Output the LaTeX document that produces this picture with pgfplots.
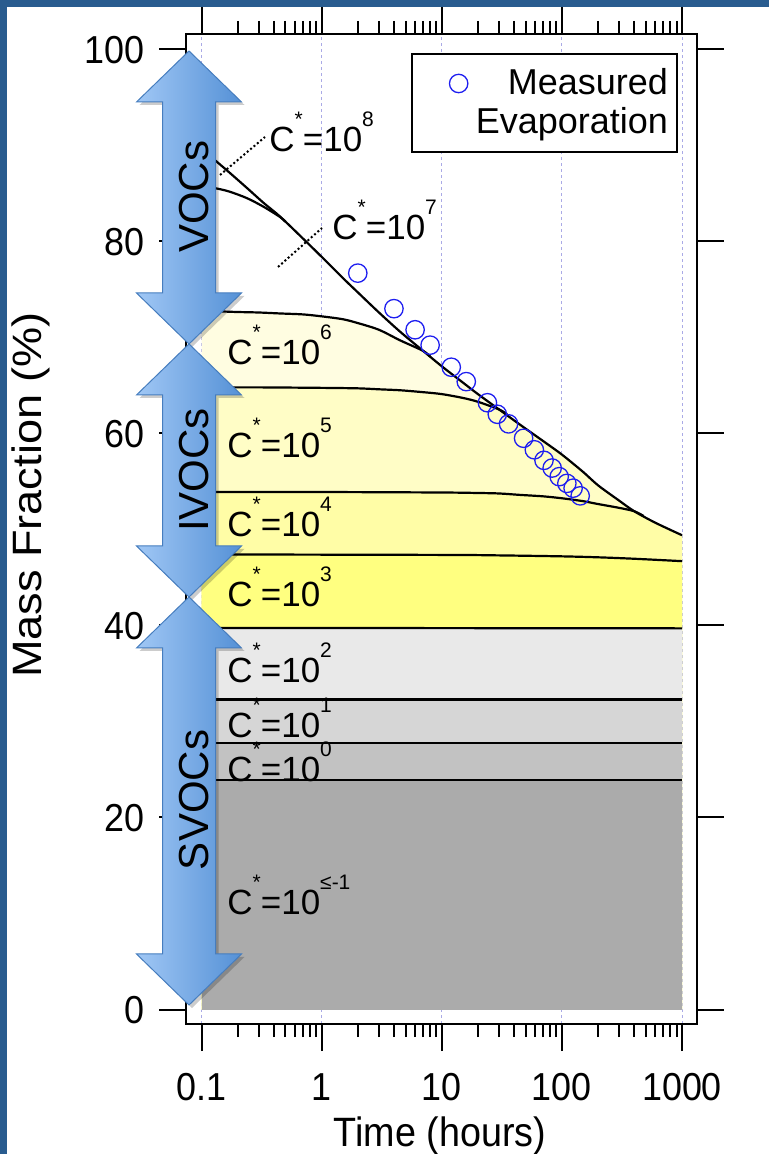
\documentclass[border=0pt]{standalone}
\usepackage{pgfplots}
\pgfplotsset{compat=1.18}
\usepackage{fontspec}
\setmainfont{Liberation Sans}
\newfontfamily\tallfont{Liberation Sans}[FakeStretch=0.92]
\newfontfamily\widefont{Liberation Sans}[FakeStretch=1.1]
\definecolor{frameblue}{RGB}{41,92,143}
\definecolor{gridc}{RGB}{170,170,230}
\definecolor{csix}{RGB}{255,253,225}
\definecolor{cfive}{RGB}{255,253,198}
\definecolor{cfour}{RGB}{255,253,166}
\definecolor{cthree}{RGB}{255,255,128}
\definecolor{ctwo}{RGB}{233,233,233}
\definecolor{cone}{RGB}{214,214,214}
\definecolor{czero}{RGB}{194,194,194}
\definecolor{cm}{RGB}{171,171,171}
\definecolor{markblue}{RGB}{30,30,240}
\definecolor{arrl}{RGB}{160,199,245}
\definecolor{arrr}{RGB}{85,145,214}
\definecolor{arrb}{RGB}{70,125,190}
\newcommand\sps[1]{\raisebox{12.5pt}{\fontsize{10.5}{10.5}\selectfont #1}}
\newcommand\Cs[1]{C\sps{*}=10\sps{#1}}
\newcommand\varrow[2]{%
  \fill[black,opacity=0.2,shift={(3,3)}] (189,#1) -- (241.5,{#1+51}) -- (215.5,{#1+51}) -- (215.5,{#2-51}) -- (241.5,{#2-51}) -- (189,#2) -- (136.5,{#2-51}) -- (162.5,{#2-51}) -- (162.5,{#1+51}) -- (136.5,{#1+51}) -- cycle;
  \draw[line width=0.5pt,draw=arrb,left color=arrl,right color=arrr] (189,#1) -- (241.5,{#1+51}) -- (215.5,{#1+51}) -- (215.5,{#2-51}) -- (241.5,{#2-51}) -- (189,#2) -- (136.5,{#2-51}) -- (162.5,{#2-51}) -- (162.5,{#1+51}) -- (136.5,{#1+51}) -- cycle;}
\begin{document}
\begin{tikzpicture}
\useasboundingbox (0,0) rectangle (384.5pt,577pt);
\begin{axis}[
  at={(93pt,65pt)}, anchor=south west, scale only axis,
  width=255.5pt, height=495pt,
  xmode=log, xmin=0.0743, xmax=1333, ymin=-1.51, ymax=101.61,
  axis line style={line width=1pt},
  tick align=outside, tick style={black,line width=1pt},
  major tick length=13.5pt, minor tick length=6.5pt,
  xtick={0.1,1,10,100,1000}, xticklabels={0.1,1,10,100,1000},
  minor xtick={0.2,0.3,0.4,0.5,0.6,0.7,0.8,0.9,2,3,4,5,6,7,8,9,20,30,40,50,60,70,80,90,200,300,400,500,600,700,800,900},
  ytick={0,20,40,60,80,100}, yticklabels={0,20,40,60,80,100}, minor ytick={},
  xtick pos=both, ytick pos=both, xticklabel pos=lower, yticklabel pos=left,
  xmajorgrids, major x grid style={dash pattern=on 1.5pt off 1.5pt, color=gridc, line width=0.5pt},
  /pgf/number format/assume math mode=true,
  tick label style={font=\tallfont\fontsize{19.5}{19.5}\selectfont},
  xticklabel style={anchor=base, inner sep=0pt, yshift=-24.5pt},
  yticklabel style={anchor=base east, inner sep=0pt, xshift=-7pt, yshift=-7pt},
  xlabel={Time (hours)}, ylabel={Mass Fraction (\%)},
  xlabel style={at={(axis description cs:0.497,-0.1242)}, anchor=base, inner sep=0pt, font=\tallfont\fontsize{20.5}{20.5}\selectfont},
  ylabel style={at={(axis description cs:-0.2818,0.5343)}, anchor=base, inner sep=0pt, font=\widefont\fontsize{20.5}{20.5}\selectfont},
  legend style={at={(0.9628,0.9808)}, anchor=north east, draw=black, line width=1pt, fill=white,
    inner xsep=4.5pt, inner ysep=5.75pt, row sep=1.5pt, column sep=4pt,
    font=\fontsize{18}{19.5}\selectfont,
    nodes={inner sep=0pt, text height=14.5pt, text depth=3.5pt}},
  legend cell align=right,
  legend image code/.code={\draw[#1,mark repeat=2,mark phase=2] plot coordinates {(0pt,0pt) (19pt,0pt) (26pt,0pt)};},
]
% fills (top layer first), each from its upper boundary down to zero
\addplot[forget plot, draw=none, fill=csix, smooth, tension=0.5] coordinates {(0.1,72.7) (0.15,72.7) (0.2,72.65) (0.3,72.6) (0.45,72.5) (0.7,72.4) (1,72.2) (1.5,71.9) (2,71.5) (3,70.8) (4.5,69.7) (7,68.6) (10,67.0) (15,65.3) (20,64.1) (30,62.5) (45,60.9) (70,59.2) (100,57.8) (150,56.0) (200,54.6) (300,53.0) (400,51.9) (600,50.7) (1000,49.4)} -- (axis cs:1000,0) -- (axis cs:0.1,0) -- cycle;
\addplot[forget plot, draw=none, fill=cfive, smooth, tension=0.5] coordinates {(0.1,64.8) (0.3,64.8) (1,64.75) (2,64.7) (3,64.6) (4.5,64.5) (7,64.3) (10,64.1) (15,63.7) (20,63.3) (30,62.5) (45,60.9) (70,59.2) (100,57.8) (150,56.0) (200,54.6) (300,53.0) (400,51.9) (600,50.7) (1000,49.4)} -- (axis cs:1000,0) -- (axis cs:0.1,0) -- cycle;
\addplot[forget plot, draw=none, fill=cfour, smooth, tension=0.5] coordinates {(0.1,53.9) (1,53.9) (10,53.85) (20,53.8) (30,53.75) (45,53.6) (70,53.45) (100,53.25) (150,52.95) (200,52.65) (300,52.25) (400,51.9) (600,50.7) (1000,49.4)} -- (axis cs:1000,0) -- (axis cs:0.1,0) -- cycle;
\addplot[forget plot, draw=none, fill=cthree, smooth, tension=0.5] coordinates {(0.1,47.4) (10,47.35) (30,47.3) (100,47.2) (200,47.1) (400,46.95) (1000,46.7)} -- (axis cs:1000,0) -- (axis cs:0.1,0) -- cycle;
\addplot[forget plot, draw=none, fill=ctwo] coordinates {(0.1,0) (0.1,39.75) (1000,39.7) (1000,0)} -- cycle;
\addplot[forget plot, draw=none, fill=cone] coordinates {(0.1,0) (0.1,32.3) (1000,32.3) (1000,0)} -- cycle;
\addplot[forget plot, draw=none, fill=czero] coordinates {(0.1,0) (0.1,27.8) (1000,27.8) (1000,0)} -- cycle;
\addplot[forget plot, draw=none, fill=cm] coordinates {(0.1,0) (0.1,23.9) (1000,23.9) (1000,0)} -- cycle;
% boundary lines
\addplot[forget plot, black, line width=1.1pt, smooth, tension=0.5] coordinates {(0.1,89.7) (0.13,88.45) (0.17,87.2) (0.24,85.55) (0.33,84.0) (0.45,82.6) (0.7,80.3) (1,78.4) (1.5,76.2) (2,74.7) (3,72.6) (4.5,70.6) (7,68.6) (10,67.0) (15,65.3) (20,64.1) (30,62.5) (45,60.9) (70,59.2) (100,57.8) (150,56.0) (200,54.6) (300,53.0) (400,51.9) (600,50.7) (1000,49.4)};
\addplot[forget plot, black, line width=1.1pt, smooth, tension=0.5] coordinates {(0.1,85.8) (0.13,85.55) (0.17,85.2) (0.24,84.5) (0.33,83.6) (0.45,82.55) (0.5,82.05)};
\addplot[forget plot, black, line width=1.1pt, smooth, tension=0.5] coordinates {(0.1,72.7) (0.15,72.7) (0.2,72.65) (0.3,72.6) (0.45,72.5) (0.7,72.4) (1,72.2) (1.5,71.9) (2,71.5) (3,70.8) (4.5,69.7) (7,68.6) (8,68.0)};
\addplot[forget plot, black, line width=1.1pt, smooth, tension=0.5] coordinates {(0.1,64.8) (0.3,64.8) (1,64.75) (2,64.7) (3,64.6) (4.5,64.5) (7,64.3) (10,64.1) (15,63.7) (20,63.3) (30,62.5) (35,62.0)};
\addplot[forget plot, black, line width=1.1pt, smooth, tension=0.5] coordinates {(0.1,53.9) (1,53.9) (10,53.85) (20,53.8) (30,53.75) (45,53.6) (70,53.45) (100,53.25) (150,52.95) (200,52.65) (300,52.25) (400,51.9) (480,51.4)};
\addplot[forget plot, black, line width=1.1pt, smooth, tension=0.5] coordinates {(0.1,47.4) (10,47.35) (30,47.3) (100,47.2) (200,47.1) (400,46.95) (1000,46.7)};
\addplot[forget plot, black, line width=1.1pt] coordinates {(0.1,39.75) (1000,39.7)};
\addplot[forget plot, black, line width=1.1pt] coordinates {(0.1,32.3) (1000,32.3)};
\addplot[forget plot, black, line width=1.1pt] coordinates {(0.1,27.8) (1000,27.8)};
\addplot[forget plot, black, line width=1.1pt] coordinates {(0.1,23.9) (1000,23.9)};
% measured evaporation
\addplot[only marks, mark=o, mark size=4.6pt, color=markblue, mark options={line width=0.65pt}] coordinates {(2,76.7) (4,73.0) (6,70.8) (8,69.2) (12,66.9) (16,65.4) (24,63.2) (29,62.0) (36,61.0) (48,59.5) (59,58.3) (71,57.2) (83,56.4) (95,55.5) (110,54.8) (124,54.3) (142,53.5)};
\addlegendentry{Measured}
\addlegendimage{empty legend}
\addlegendentry{Evaporation}
\end{axis}
\begin{scope}[x=0.5pt,y=-0.5pt,yshift=577pt]
  \fill[frameblue] (0,0) rectangle (769,7);
  \fill[frameblue] (0,0) rectangle (7,1154);
  \varrow{51}{344}
  \varrow{344}{597}
  \varrow{597}{1005}
  \node[rotate=90, anchor=base, inner sep=0pt, font=\fontsize{21}{21}\selectfont] at (208,197) {VOCs};
  \node[rotate=90, anchor=base, inner sep=0pt, font=\fontsize{21}{21}\selectfont] at (208,470) {IVOCs};
  \node[rotate=90, anchor=base, inner sep=0pt, font=\fontsize{21}{21}\selectfont] at (208,800) {SVOCs};
  \draw[line width=1pt, dash pattern=on 1pt off 1.2pt] (220,175) -- (265,137);
  \draw[line width=1pt, dash pattern=on 1pt off 1.2pt] (278,267) -- (322,228);
  \begin{scope}[every node/.style={anchor=base west, inner sep=0pt, font=\fontsize{17.5}{18}\selectfont}]
    \node at (269,152) {\Cs{8}};
    \node at (332,240) {\Cs{7}};
    \node at (227,365) {\Cs{6}};
    \node at (227,458) {\Cs{5}};
    \node at (227,537) {\Cs{4}};
    \node at (227,607) {\Cs{3}};
    \node at (227,683) {\Cs{2}};
    \node at (227,738) {\Cs{1}};
    \node at (227,782) {\Cs{0}};
    \node at (227,915) {\Cs{≤-1}};
  \end{scope}
\end{scope}
\end{tikzpicture}
\end{document}
